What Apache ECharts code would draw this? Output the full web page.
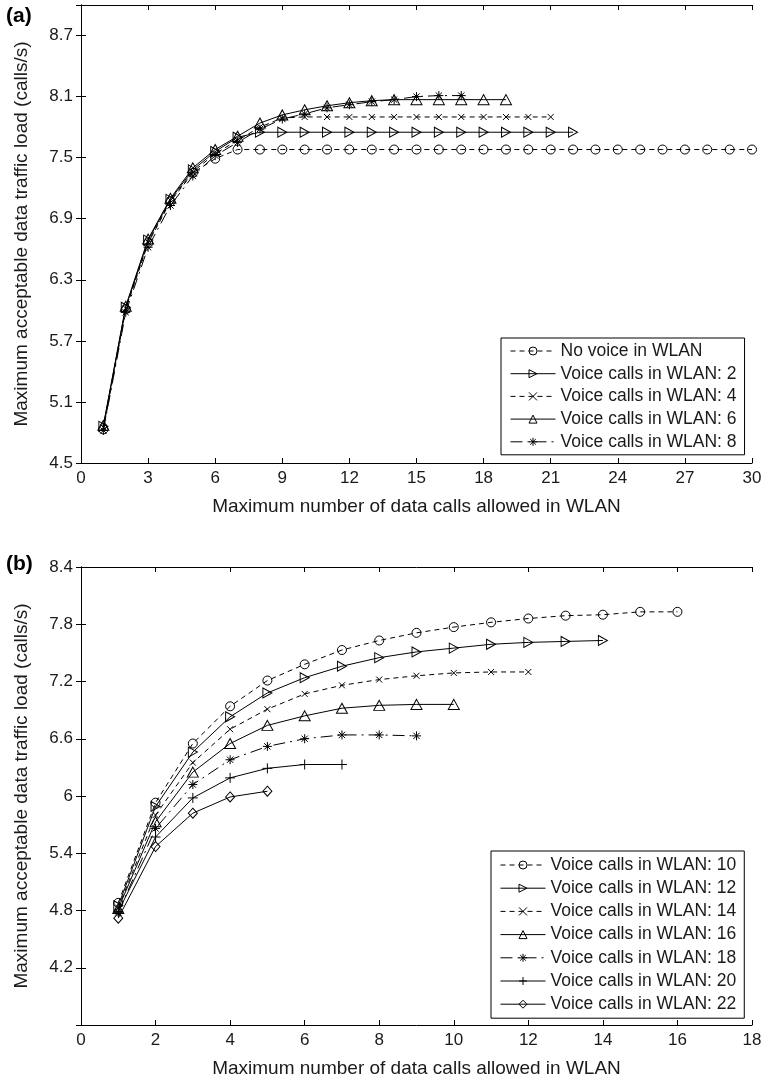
<!DOCTYPE html>
<html>
<head>
<meta charset="utf-8">
<script src="https://cdn.jsdelivr.net/npm/echarts@6/dist/echarts.min.js"></script>
<style>
html,body{margin:0;padding:0;background:#fff;}
#chart{width:766px;height:1084px;}
</style>
</head>
<body>
<div id="chart"></div>
<script>
// ---------- Panel (a) data: x = 1..n ----------
const namesA = ['No voice in WLAN','Voice calls in WLAN: 2','Voice calls in WLAN: 4','Voice calls in WLAN: 6','Voice calls in WLAN: 8'];
const noVoice = [4.83,6.01,6.66,7.07,7.35,7.49,7.58,7.58,7.58,7.58,7.58,7.58,7.58,7.58,7.58,7.58,7.58,7.58,7.58,7.58,7.58,7.58,7.58,7.58,7.58,7.58,7.58,7.58,7.58,7.58];
const voice2 = [4.86,6.03,6.69,7.09,7.38,7.56,7.70,7.75,7.75,7.75,7.75,7.75,7.75,7.75,7.75,7.75,7.75,7.75,7.75,7.75,7.75,7.75];
const voice4 = [4.85,6.02,6.67,7.08,7.36,7.54,7.67,7.80,7.89,7.90,7.90,7.90,7.90,7.90,7.90,7.90,7.90,7.90,7.90,7.90,7.90];
const voice6 = [4.87,6.04,6.70,7.10,7.40,7.58,7.71,7.84,7.92,7.97,8.01,8.04,8.06,8.07,8.07,8.07,8.07,8.07,8.07];
const voice8 = [4.82,5.98,6.62,7.03,7.32,7.52,7.65,7.78,7.88,7.93,7.99,8.02,8.05,8.07,8.10,8.11,8.11];

// ---------- Panel (b) data ----------
const namesB = ['Voice calls in WLAN: 10','Voice calls in WLAN: 12','Voice calls in WLAN: 14','Voice calls in WLAN: 16','Voice calls in WLAN: 18','Voice calls in WLAN: 20','Voice calls in WLAN: 22'];
const voice10 = [4.88,5.93,6.55,6.94,7.21,7.38,7.53,7.63,7.71,7.77,7.82,7.86,7.89,7.90,7.93,7.93];
const voice12 = [4.85,5.89,6.46,6.83,7.08,7.24,7.36,7.45,7.51,7.55,7.59,7.61,7.62,7.63];
const voice14 = [4.83,5.80,6.35,6.70,6.91,7.07,7.16,7.22,7.26,7.29,7.30,7.30];
const voice16 = [4.82,5.73,6.25,6.55,6.74,6.84,6.92,6.95,6.96,6.96];
const voice18 = [4.78,5.66,6.12,6.38,6.52,6.60,6.64,6.64,6.63];
const voice20 = [4.79,5.57,5.98,6.19,6.29,6.33,6.33];
const voice22 = [4.72,5.47,5.82,5.99,6.05];

const xTitle = 'Maximum number of data calls allowed in WLAN';
const yTitle = 'Maximum acceptable data traffic load (calls/s)';

const FONT = 'Liberation Sans, Arial, Helvetica, sans-serif';
const SYM = {
  circle: 'circle',
  rtri: 'path://M0,0L10,5L0,10Z',
  cross: 'path://M0,0L10,10M10,0L0,10',
  tri: 'triangle',
  star: 'path://M5,0L5,10M0,5L10,5M1.5,1.5L8.5,8.5M8.5,1.5L1.5,8.5',
  plus: 'path://M5,0L5,10M0,5L10,5',
  diamond: 'diamond'
};
const DASH = [5,4];
const DASHDOT = [12,5,2,5];

function mk(name, vals, sym, size, dash, ax) {
  return {
    type: 'line', name: name,
    xAxisIndex: ax, yAxisIndex: ax,
    data: vals.map((v, i) => [i + 1, v]),
    symbol: SYM[sym], symbolSize: size, showAllSymbol: true,
    lineStyle: { color: '#000', width: 1, type: dash },
    itemStyle: { color: 'none', borderColor: '#000', borderWidth: 1 },
    emphasis: { disabled: true },
    animation: false
  };
}

const series = [
  mk(namesA[0], noVoice, 'circle', 9, DASH, 0),
  mk(namesA[1], voice2, 'rtri', [9,10], 'solid', 0),
  mk(namesA[2], voice4, 'cross', 6, DASH, 0),
  mk(namesA[3], voice6, 'tri', [11,10], 'solid', 0),
  mk(namesA[4], voice8, 'star', 9, DASHDOT, 0),
  mk(namesB[0], voice10, 'circle', 9, DASH, 1),
  mk(namesB[1], voice12, 'rtri', [9,10], 'solid', 1),
  mk(namesB[2], voice14, 'cross', 6, DASH, 1),
  mk(namesB[3], voice16, 'tri', [11,10], 'solid', 1),
  mk(namesB[4], voice18, 'star', 9, DASHDOT, 1),
  mk(namesB[5], voice20, 'plus', 10, 'solid', 1),
  mk(namesB[6], voice22, 'diamond', [9,10], 'solid', 1)
];

const lbl = { fontSize: 17, fontFamily: FONT, color: '#1a1a1a' };
const axLine = { show: true, lineStyle: { color: '#000', width: 1 } };
const tick = { show: true, inside: true, length: 5, lineStyle: { color: '#000' } };
const nameStyle = { fontSize: 19, fontFamily: FONT, color: '#1a1a1a' };

function xAxes(grid, max, interval) {
  return [
    { type: 'value', gridIndex: grid, position: 'bottom', min: 0, max: max, interval: interval,
      axisLine: axLine, axisTick: tick, splitLine: { show: false },
      axisLabel: Object.assign({ margin: 7 }, lbl),
      name: xTitle, nameLocation: 'middle', nameGap: 34, nameTextStyle: nameStyle },
    { type: 'value', gridIndex: grid, position: 'top', min: 0, max: max, interval: interval,
      axisLine: axLine, axisTick: tick, splitLine: { show: false }, axisLabel: { show: false } }
  ];
}
function yAxes(grid, min, max, hideMin, hideMax) {
  return [
    { type: 'value', gridIndex: grid, position: 'left', min: min, max: max, interval: 0.6,
      axisLine: axLine, axisTick: tick, splitLine: { show: false },
      axisLabel: Object.assign({ margin: 8, showMinLabel: !hideMin, showMaxLabel: !hideMax }, lbl),
      name: yTitle, nameLocation: 'middle', nameGap: 50, nameTextStyle: nameStyle },
    { type: 'value', gridIndex: grid, position: 'right', min: min, max: max, interval: 0.6,
      axisLine: axLine, axisTick: tick, splitLine: { show: false }, axisLabel: { show: false } }
  ];
}

const xa = xAxes(0, 30, 3), xb = xAxes(1, 18, 2);
const ya = yAxes(0, 4.5, 9.0, false, true), yb = yAxes(1, 3.6, 8.4, true, false);
const xAxis = [xa[0], xb[0], xa[1], xb[1]];
const yAxis = [ya[0], yb[0], ya[1], yb[1]];

const legendBase = {
  orient: 'vertical', itemWidth: 45, itemHeight: 10, itemGap: 4.7,
  borderColor: '#000', borderWidth: 1, backgroundColor: '#fff', borderRadius: 0,
  selectedMode: false,
  lineStyle: { width: 1, color: '#000' },
  itemStyle: { color: 'none', borderColor: '#000', borderWidth: 1 },
  textStyle: { fontSize: 17.5, fontFamily: FONT, color: '#1a1a1a', lineHeight: 16 }
};

const option = {
  animation: false,
  backgroundColor: '#fff',
  grid: [
    { left: 81, top: 5, width: 671, height: 458 },
    { left: 81, top: 567, width: 671, height: 458 }
  ],
  xAxis: xAxis,
  yAxis: yAxis,
  legend: [
    Object.assign({}, legendBase, { left: 501, top: 338, padding: [4, 8, 4, 9], data: namesA }),
    Object.assign({}, legendBase, { left: 491, top: 851, padding: [5, 8, 5, 9], itemGap: 5.2, data: namesB })
  ],
  graphic: [
    { type: 'text', left: 6, top: 6, style: { text: '(a)', fontSize: 21, fontWeight: 'bold', fontFamily: FONT, fill: '#000' } },
    { type: 'text', left: 6, top: 554, style: { text: '(b)', fontSize: 21, fontWeight: 'bold', fontFamily: FONT, fill: '#000' } }
  ],
  series: series
};

const chart = echarts.init(document.getElementById('chart'), null, { renderer: 'canvas' });
chart.setOption(option);
</script>
</body>
</html>
